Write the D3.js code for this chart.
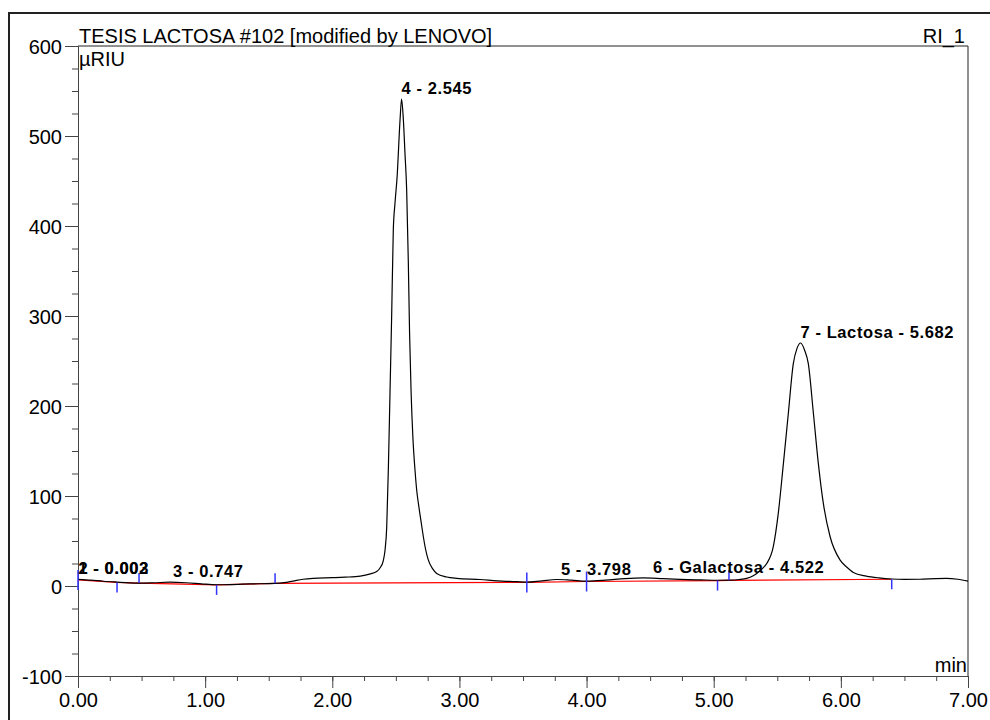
<!DOCTYPE html>
<html>
<head>
<meta charset="utf-8">
<script src="https://cdn.jsdelivr.net/npm/d3@7"></script>
<style>
  body { margin: 0; background: #fff; }
  svg { display: block; font-family: "Liberation Sans", Arial, sans-serif; }
  .axis text { font-size: 20px; fill: #000; }
  .axis line, .axis path { stroke: #444; }
  .peak_label { font-size: 16.5px; font-weight: bold; letter-spacing: 0.6px; fill: #000; }
</style>
</head>
<body>
<div class="wrapper"></div>
<script>
// signal trace (time in min, signal in µRIU)
var traceTime = [0.00, 0.10, 0.20, 0.307, 0.40, 0.48, 0.60, 0.72, 0.85, 0.97, 1.09, 1.20, 1.35, 1.55,
    1.62, 1.69, 1.77, 1.85, 2.00, 2.10, 2.22, 2.30, 2.349, 2.375, 2.401, 2.415, 2.428, 2.441, 2.454,
    2.467, 2.480, 2.493, 2.510, 2.533, 2.545, 2.559, 2.572, 2.585, 2.598, 2.608, 2.620, 2.634, 2.651,
    2.665, 2.677, 2.700, 2.716, 2.735, 2.755, 2.790, 2.821, 2.900, 2.979, 3.162, 3.30, 3.45, 3.53,
    3.65, 3.765, 3.88, 4.00, 4.15, 4.30, 4.446, 4.60, 4.735, 4.90, 5.03, 5.128, 5.20, 5.259, 5.311,
    5.338, 5.380, 5.417, 5.469, 5.508, 5.548, 5.587, 5.626, 5.655, 5.684, 5.715, 5.744, 5.784, 5.823,
    5.862, 5.915, 5.993, 6.046, 6.098, 6.20, 6.30, 6.40, 6.50, 6.62, 6.75, 6.83, 6.92, 7.00];
var traceSignal = [7.4, 6.5, 5.3, 4.3, 3.5, 3.2, 3.6, 4.2, 3.6, 2.4, 1.4, 1.6, 2.3, 3.0,
    3.8, 5.5, 7.5, 8.5, 9.2, 9.8, 11, 13.5, 16, 20, 28, 40, 65, 130, 215,
    300, 396, 425, 455, 518, 541, 518, 480, 440, 360, 280, 215, 165, 128,
    105, 92, 70, 55, 40, 29, 19, 14, 10, 8.5, 7.2, 5.8, 4.8, 4.2,
    5.8, 7.2, 6.5, 5.5, 6.5, 8.2, 9.0, 8.2, 7.4, 6.8, 6.4, 6.5, 7.2, 8.5, 11.5,
    14, 19, 25, 44, 81, 136, 192, 247, 264, 270, 262, 247, 192, 136,
    92, 55, 29, 21, 15, 11, 9, 7.8, 7.4, 7.5, 8.3, 8.5, 7.5, 5.5];

// integration baseline (red)
var baseTime = [0.00, 0.307, 0.48, 1.09, 1.55, 3.53, 4.00, 5.03, 5.12, 6.40];
var baseSignal = [6.7, 4.0, 3.2, 1.2, 3.0, 4.0, 5.0, 6.0, 6.3, 7.5];

// peak delimiters (blue)
var delimTime = [0.00, 0.307, 0.48, 1.09, 1.55, 3.53, 4.00, 5.03, 5.12, 6.40];
var delimKind = ["both", "down", "up", "down", "up", "both", "both", "down", "up", "down"];

// peak labels
var peakTime = [0.002, 0.003, 0.747, 2.545, 3.798, 4.522, 5.682];
var peakLabel = ["1 - 0.002", "2 - 0.003", "3 - 0.747", "4 - 2.545", "5 - 3.798",
    "6 - Galactosa - 4.522", "7 - Lactosa - 5.682"];

var xMajor = [0, 1, 2, 3, 4, 5, 6, 7];
var yMajor = [-100, 0, 100, 200, 300, 400, 500, 600];

var width = 990,
    height = 720;

var x = d3.scaleLinear().domain([0, 7]).range([78, 968]);
var y = d3.scaleLinear().domain([-100, 600]).range([676, 46]);

var svg = d3.select(".wrapper").append("svg")
    .attr("width", width)
    .attr("height", height);

// outer frame
svg.append("rect")
    .attr("x", 9).attr("y", 13)
    .attr("width", width).attr("height", height)
    .attr("fill", "none")
    .attr("stroke", "#222")
    .attr("stroke-width", 2);

// minor ticks
svg.append("g").attr("class", "axis")
    .attr("transform", "translate(" + x(0) + ",0)")
    .call(d3.axisLeft(y).tickValues(d3.range(-100, 601, 25)).tickSize(6).tickSizeOuter(0).tickFormat(""));
svg.append("g").attr("class", "axis")
    .attr("transform", "translate(0," + y(-100) + ")")
    .call(d3.axisBottom(x).tickValues(d3.range(0, 7.01, 0.25)).tickSize(5).tickSizeOuter(0).tickFormat(""));

// major ticks with labels (plain hyphen for negatives)
svg.append("g").attr("class", "axis")
    .attr("transform", "translate(" + x(0) + ",0)")
    .call(d3.axisLeft(y).tickValues(yMajor).tickSize(13).tickSizeOuter(0).tickPadding(3).tickFormat(function(d) { return String(d); }))
    .selectAll("text").attr("dy", "0.37em");
svg.append("g").attr("class", "axis")
    .attr("transform", "translate(0," + y(-100) + ")")
    .call(d3.axisBottom(x).tickValues(xMajor).tickSize(12).tickSizeOuter(0).tickPadding(5).tickFormat(function(d) { return d.toFixed(2); }));

// top and right edges of the plot box
svg.append("path")
    .attr("d", "M" + x(0) + "," + y(600) + "H" + x(7) + "V" + y(-100))
    .attr("fill", "none")
    .attr("stroke", "#222")
    .attr("stroke-width", 1);

// texts
svg.append("text").attr("x", 79).attr("y", 43).attr("font-size", 20).text("TESIS LACTOSA #102 [modified by LENOVO]");
svg.append("text").attr("x", 965).attr("y", 43).attr("font-size", 20).attr("text-anchor", "end").text("RI_1");
svg.append("text").attr("x", 79).attr("y", 66).attr("font-size", 20).text("µRIU");
svg.append("text").attr("x", 967).attr("y", 672).attr("font-size", 20).attr("text-anchor", "end").text("min");

var trace = traceTime.map(function(t, i) { return [t, traceSignal[i]]; });
var base = baseTime.map(function(t, i) { return [t, baseSignal[i]]; });

function interp(times, values, t) {
    var i = d3.bisectRight(times, t);
    if (i <= 0) return values[0];
    if (i >= times.length) return values[values.length - 1];
    var f = (t - times[i - 1]) / (times[i] - times[i - 1]);
    return values[i - 1] + f * (values[i] - values[i - 1]);
}

// baseline
svg.append("path")
    .datum(base)
    .attr("d", d3.line().x(function(d) { return x(d[0]); }).y(function(d) { return y(d[1]); }))
    .attr("fill", "none")
    .attr("stroke", "#ff0000")
    .attr("stroke-width", 1.2);

// chromatogram
svg.append("path")
    .datum(trace)
    .attr("d", d3.line().curve(d3.curveMonotoneX).x(function(d) { return x(d[0]); }).y(function(d) { return y(d[1]); }))
    .attr("fill", "none")
    .attr("stroke", "#000")
    .attr("stroke-width", 1.2);

// delimiters
svg.selectAll(".delim")
    .data(delimTime)
    .enter().append("line")
    .attr("class", "delim")
    .attr("x1", function(d) { return x(d); })
    .attr("x2", function(d) { return x(d); })
    .attr("y1", function(d, i) { var b = y(interp(baseTime, baseSignal, d)); return delimKind[i] == "down" ? b : b - 10; })
    .attr("y2", function(d, i) { var b = y(interp(baseTime, baseSignal, d)); return delimKind[i] == "up" ? b : b + 10; })
    .attr("stroke", "#3333ff")
    .attr("stroke-width", 1.5);

// peak labels
svg.selectAll(".peak_label")
    .data(peakTime)
    .enter().append("text")
    .attr("class", "peak_label")
    .attr("x", function(d) { return x(d); })
    .attr("y", function(d) { return y(interp(traceTime, traceSignal, d)) - 5; })
    .text(function(d, i) { return peakLabel[i]; });
</script>
</body>
</html>
